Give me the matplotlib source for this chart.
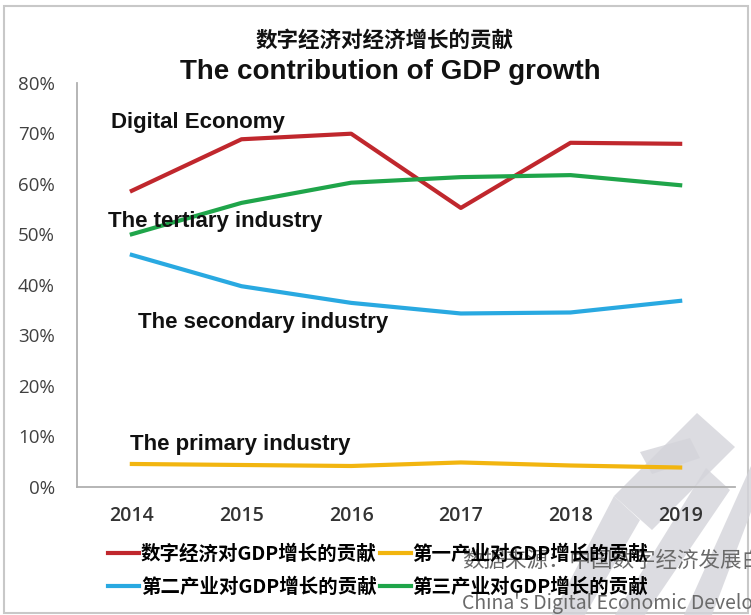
import matplotlib.pyplot as plt
from matplotlib.patches import Polygon, Rectangle

# chart data (share of GDP growth)
years = ['2014', '2015', '2016', '2017', '2018', '2019']
digital = [0.586, 0.688, 0.699, 0.552, 0.681, 0.679]
primary = [0.045, 0.043, 0.041, 0.048, 0.042, 0.038]
secondary = [0.459, 0.397, 0.364, 0.343, 0.345, 0.368]
tertiary = [0.500, 0.562, 0.602, 0.613, 0.617, 0.597]

legend_labels = ['数字经济对GDP增长的贡献', '第二产业对GDP增长的贡献',
                 '第一产业对GDP增长的贡献', '第三产业对GDP增长的贡献']
y_ticks = [0, 0.1, 0.2, 0.3, 0.4, 0.5, 0.6, 0.7, 0.8]

RED = '#c0272d'
YELLOW = '#f2b50f'
BLUE = '#29a9e1'
GREEN = '#1fa54a'

CJK = ['Noto Sans CJK SC', 'DejaVu Sans']
EN = ['Liberation Sans', 'DejaVu Sans']

W, H = 751, 615
fig = plt.figure(figsize=(W / 100, H / 100), dpi=100)

# background layer in pixel coordinates: frame + watermark logo
bg = fig.add_axes([0, 0, 1, 1], zorder=0)
bg.set_xlim(0, W)
bg.set_ylim(H, 0)
bg.axis('off')
bg.add_patch(Rectangle((4, 6), 744, 607, fill=False, ec='#c8c8c8', lw=1.5))
wm = '#d4d4da'
for pts in [
    [(697, 413), (735, 447), (652, 530), (614, 496)],
    [(614, 496), (640, 520), (585, 615), (552, 615)],
    [(706, 468), (730, 490), (645, 615), (615, 615)],
    [(751, 466), (751, 512), (712, 615), (684, 615)],
    [(640, 452), (690, 438), (700, 458), (652, 474)],
]:
    bg.add_patch(Polygon(pts, closed=True, fc=wm, ec='none', alpha=0.8))

# main chart
ax = fig.add_axes([77 / W, 1 - 486.7 / H, (735 - 77) / W, (486.7 - 82.7) / H], zorder=1)
ax.patch.set_alpha(0)
x = range(len(years))
ax.plot(x, digital, color=RED, lw=3, label=legend_labels[0])
ax.plot(x, secondary, color=BLUE, lw=3, label=legend_labels[1])
ax.plot(x, primary, color=YELLOW, lw=3, label=legend_labels[2])
ax.plot(x, tertiary, color=GREEN, lw=3, label=legend_labels[3])

ax.set_xlim(-0.5, len(years) - 0.5)
ax.set_ylim(0, 0.8)
ax.set_yticks(y_ticks)
ax.set_yticklabels(['%d%%' % round(v * 100) for v in y_ticks],
                   family='Open Sans', fontsize=13.5, color='#404040')
ax.set_xticks(list(x))
ax.set_xticklabels(years, family='Open Sans', fontsize=14, fontweight='semibold',
                   color='#333333')
ax.tick_params(axis='y', length=0, pad=16)
ax.tick_params(axis='x', length=0, pad=14)
for side in ['top', 'right']:
    ax.spines[side].set_visible(False)
for side in ['left', 'bottom']:
    ax.spines[side].set_color('#b0b0b0')
    ax.spines[side].set_linewidth(1.3)

# series annotations
ann = dict(family=EN, fontsize=16, fontweight='bold', color='#111111', va='center')
ax.text(-0.19, 0.722, 'Digital Economy', **ann)
ax.text(-0.22, 0.526, 'The tertiary industry', **ann)
ax.text(0.06, 0.326, 'The secondary industry', **ann)
ax.text(-0.02, 0.084, 'The primary industry', **ann)

# titles
fig.text(385 / W, 1 - 40 / H, '数字经济对经济增长的贡献', family=CJK, fontsize=15.5,
         fontweight='bold', ha='center', va='center', color='#111111')
fig.text(390 / W, 1 - 72 / H, 'The contribution of GDP growth', family=EN,
         fontsize=20, fontweight='bold', ha='center', va='center', color='#111111')

# legend
fig.legend(loc='upper left', bbox_to_anchor=(108 / W, 1 - 544 / H), ncol=2,
           frameon=False, prop={'family': CJK, 'size': 14, 'weight': 'bold'},
           handlelength=1.6, handletextpad=0.1, columnspacing=0.15,
           labelspacing=0.7, borderpad=0, borderaxespad=0)

# source overlay text (cut by the right edge as in the source image)
fig.text(462 / W, 1 - 561 / H, '数据来源：中国数字经济发展白皮书', family=CJK,
         fontsize=15.5, color='#6a6a6a', va='center', zorder=5)
fig.text(462 / W, 1 - 604 / H, "China's Digital Economic Development White Paper",
         family=CJK, fontsize=14, color='#6a6a6a', va='center', zorder=5)

fig.savefig('out.png', dpi=100)
